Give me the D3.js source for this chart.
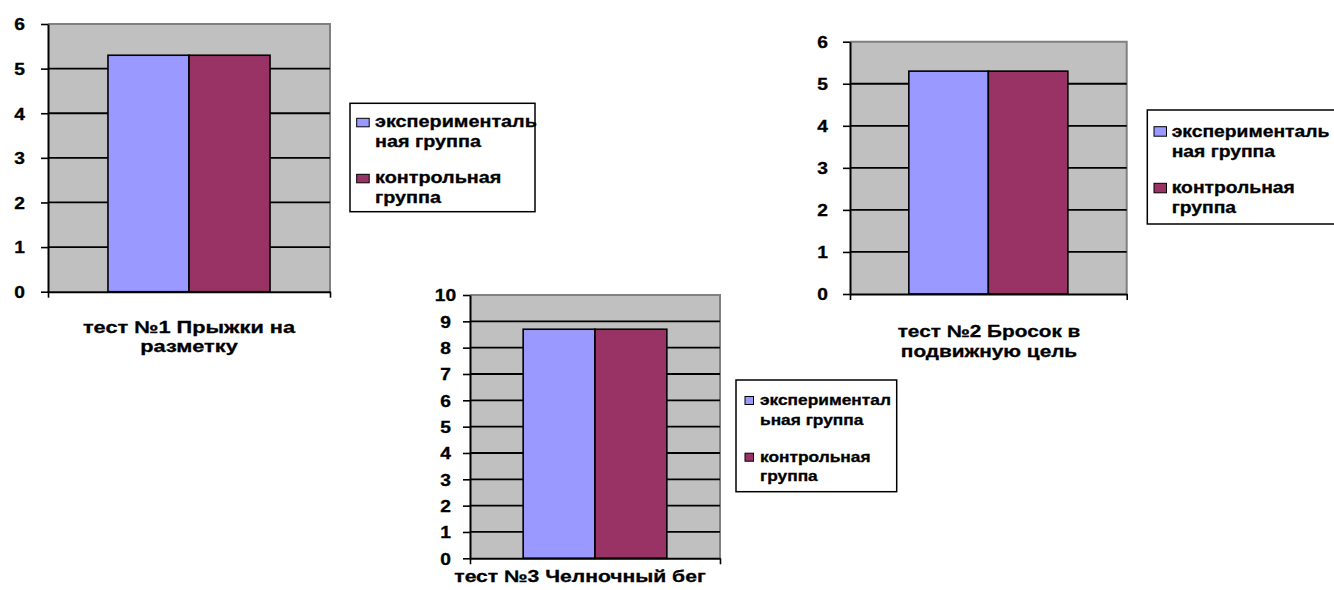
<!DOCTYPE html>
<html>
<head>
<meta charset="utf-8">
<script src="https://cdn.jsdelivr.net/npm/d3@7"></script>
<style>
  body { margin: 0; background: #fff; }
  svg { display: block; }
  text { font-family: "Liberation Sans", Arial, sans-serif; font-weight: bold; fill: #000;
         stroke: #000; stroke-width: 0.3px; }
</style>
</head>
<body>
<svg id="chart" width="1334" height="590"></svg>
<script>
// ---- data ----
const testLabels = [
  ["тест №1 Прыжки на", "разметку"],
  ["тест №2 Бросок в", "подвижную цель"],
  ["тест №3 Челночный бег"]
];
const seriesNames = ["экспериментальная группа", "контрольная группа"];
const seriesColors = ["#9999FF", "#993366"];
const experimentalValues = [5.3, 5.3, 8.7];
const controlValues = [5.3, 5.3, 8.7];
const yTicksSmall = [0, 1, 2, 3, 4, 5, 6];
const yTicksLarge = [0, 1, 2, 3, 4, 5, 6, 7, 8, 9, 10];
const legendLinesWide = [["эксперименталь", "ная группа"], ["контрольная", "группа"]];
const legendLinesNarrow = [["экспериментал", "ьная группа"], ["контрольная", "группа"]];

// ---- layout of the three small charts ----
const panels = [
  {
    plot: { x0: 48, x1: 330, y0: 24, y1: 291.7 }, ticks: yTicksSmall,
    tickFont: 16, tickDx: -28.5,
    cat: { x: 189, y: 333, lh: 19, font: 17, sx: 1.28 },
    legend: { x: 350, y: 103.3, w: 185, h: 108.4, font: 16.5, sx: 1.2, lh: 19.5, base: [24, 80],
              sw: { x: 6.7, w: 12.5, h: 8.5 }, tx: 25, lines: legendLinesWide, clip: 2 }
  },
  {
    plot: { x0: 850, x1: 1126.7, y0: 41.7, y1: 294 }, ticks: yTicksSmall,
    tickFont: 16, tickDx: -27.5,
    cat: { x: 989, y: 337, lh: 20, font: 16.5, sx: 1.26 },
    legend: { x: 1147.3, y: 110, w: 192, h: 114, font: 16.5, sx: 1.17, lh: 20, base: [26.7, 83.3],
              sw: { x: 6.7, w: 12.5, h: 9.5 }, tx: 24.4, lines: legendLinesWide, clip: 2 }
  },
  {
    plot: { x0: 470, x1: 720, y0: 295, y1: 558.3 }, ticks: yTicksLarge,
    tickFont: 16, tickDx: -24.5,
    cat: { x: 580, y: 582, lh: 19, font: 16.5, sx: 1.28 },
    legend: { x: 736, y: 380, w: 160.7, h: 111.7, font: 14.2, sx: 1.22, lh: 19.5, base: [25, 81.7],
              sw: { x: 9, w: 8.5, h: 8 }, tx: 24, lines: legendLinesNarrow, clip: 0 }
  }
];

const SX = 1.2; // horizontal stretch of the tick lettering
const svg = d3.select("#chart");
const defs = svg.append("defs");

panels.forEach((p, i) => {
  const g = svg.append("g");
  const { x0, x1, y0, y1 } = p.plot;
  const yMax = d3.max(p.ticks);
  const y = d3.scaleLinear().domain([0, yMax]).range([y1, y0]);
  const xCat = d3.scaleBand().domain([i]).range([x0, x1]).paddingInner(0).paddingOuter(0.37);
  const xSer = d3.scaleBand().domain(d3.range(seriesNames.length)).range([0, xCat.bandwidth()]);
  const values = [experimentalValues[i], controlValues[i]];

  // plot area
  g.append("rect").attr("x", x0).attr("y", y0).attr("width", x1 - x0).attr("height", y1 - y0)
    .attr("fill", "#C0C0C0");
  g.append("path").attr("d", `M${x0},${y0}H${x1}V${y1}`)
    .attr("fill", "none").attr("stroke", "#808080").attr("stroke-width", 2);

  // gridlines
  g.append("g").selectAll("line").data(p.ticks.filter(t => t > 0 && t < yMax)).join("line")
    .attr("x1", x0).attr("x2", x1).attr("y1", d => y(d)).attr("y2", d => y(d))
    .attr("stroke", "#000").attr("stroke-width", 1.8);

  // bars
  g.append("g").selectAll("rect").data(values).join("rect")
    .attr("x", (d, k) => xCat(i) + xSer(k))
    .attr("width", xSer.bandwidth())
    .attr("y", d => y(d))
    .attr("height", d => y(0) - y(d))
    .attr("fill", (d, k) => seriesColors[k])
    .attr("stroke", "#000").attr("stroke-width", 1.6);

  // value axis
  const yAxis = g.append("g").attr("transform", `translate(${x0},0)`)
    .call(d3.axisLeft(y).tickValues(p.ticks).tickSize(7).tickSizeOuter(0).tickFormat(d3.format("d")));
  yAxis.select(".domain").attr("stroke", "#000").attr("stroke-width", 2);
  yAxis.selectAll(".tick line").attr("stroke", "#000").attr("stroke-width", 1.6);
  yAxis.selectAll(".tick text")
    .attr("x", null).attr("dy", "0.36em")
    .attr("text-anchor", "middle")
    .attr("transform", `translate(${p.tickDx},0) scale(${SX},1)`)
    .style("font-size", p.tickFont + "px")
    .style("font-family", '"Liberation Sans", Arial, sans-serif')
    .style("font-weight", "bold").attr("fill", "#000");

  // category axis with boundary ticks
  const xEdge = d3.scaleLinear().domain([0, 1]).range([x0, x1]);
  const xAxis = g.append("g").attr("transform", `translate(0,${y1})`)
    .call(d3.axisBottom(xEdge).tickValues([0, 1]).tickSize(6).tickSizeOuter(0).tickFormat(""));
  xAxis.select(".domain").attr("stroke", "#000").attr("stroke-width", 2);
  xAxis.selectAll(".tick line").attr("stroke", "#000").attr("stroke-width", 1.6);

  // category label
  testLabels[i].forEach((line, j) => {
    g.append("text")
      .attr("transform", `translate(${p.cat.x},${p.cat.y + j * p.cat.lh}) scale(${p.cat.sx},1)`)
      .attr("text-anchor", "middle")
      .style("font-size", p.cat.font + "px")
      .text(line);
  });

  // legend
  const L = p.legend;
  const clipId = "legend-clip-" + i;
  defs.append("clipPath").attr("id", clipId)
    .append("rect").attr("x", 0).attr("y", 0).attr("width", L.w + L.clip).attr("height", L.h);
  const lg = g.append("g").attr("transform", `translate(${L.x},${L.y})`);
  lg.append("rect").attr("width", L.w).attr("height", L.h)
    .attr("fill", "#fff").attr("stroke", "#000").attr("stroke-width", 1.5);
  const inner = lg.append("g").attr("clip-path", `url(#${clipId})`);
  seriesNames.forEach((name, k) => {
    const b = L.base[k];
    inner.append("rect")
      .attr("x", L.sw.x).attr("y", b - 0.5 - L.sw.h)
      .attr("width", L.sw.w).attr("height", L.sw.h)
      .attr("fill", seriesColors[k]).attr("stroke", "#000").attr("stroke-width", 1);
    L.lines[k].forEach((line, j) => {
      inner.append("text")
        .attr("transform", `translate(${L.tx},${b + j * L.lh}) scale(${L.sx},1)`)
        .style("font-size", L.font + "px")
        .text(line);
    });
  });
});
</script>
</body>
</html>
